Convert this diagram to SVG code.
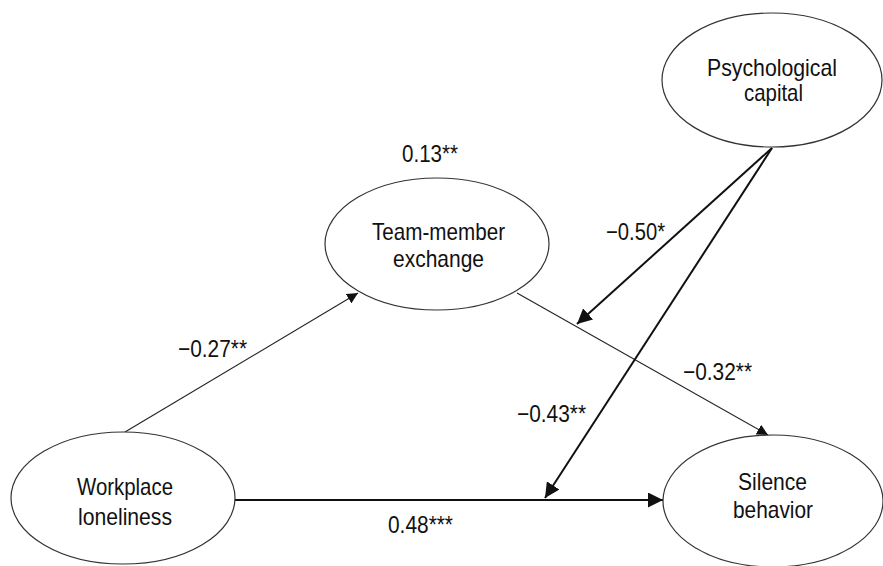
<svg xmlns="http://www.w3.org/2000/svg" width="883" height="566" viewBox="0 0 883 566">
<style>
.node ellipse{fill:#fff;stroke:#333;stroke-width:1.2}
text{font-family:"Liberation Sans",Arial,sans-serif;font-size:24px;fill:#111;text-anchor:middle}
.thin{stroke:#222;stroke-width:1.1;fill:none}
.thick{stroke:#111;stroke-width:2;fill:none}
</style>
<defs>
<marker id="ah" viewBox="0 0 10 10" refX="10" refY="5" markerWidth="11" markerHeight="11" markerUnits="userSpaceOnUse" orient="auto">
<path d="M0,0 L10,5 L0,10 z" fill="#111"/>
</marker>
<marker id="ah2" viewBox="0 0 10 10" refX="10" refY="5" markerWidth="7.5" markerHeight="7.5" markerUnits="strokeWidth" orient="auto">
<path d="M0,0 L10,5 L0,10 z" fill="#111"/>
</marker>
</defs>
<rect width="883" height="566" fill="#fff"/>
<g id="connectors">
<line class="thin" x1="125" y1="432" x2="358" y2="293" marker-end="url(#ah)"/>
<line class="thin" x1="517" y1="293" x2="768" y2="435" marker-end="url(#ah)"/>
<line class="thick" x1="235" y1="500" x2="663" y2="500" marker-end="url(#ah2)"/>
<line class="thick" x1="772" y1="148" x2="577" y2="324" marker-end="url(#ah2)"/>
<line class="thick" x1="772" y1="148" x2="545" y2="498" marker-end="url(#ah2)"/>
<text x="212.5" y="357" textLength="69" lengthAdjust="spacingAndGlyphs">−0.27**</text>
<text x="635.5" y="240" textLength="59" lengthAdjust="spacingAndGlyphs">−0.50*</text>
<text x="717.5" y="380" textLength="69" lengthAdjust="spacingAndGlyphs">−0.32**</text>
<text x="551.5" y="422" textLength="69" lengthAdjust="spacingAndGlyphs">−0.43**</text>
<text x="420.5" y="533" textLength="65" lengthAdjust="spacingAndGlyphs">0.48***</text>
<text x="430" y="162" textLength="56" lengthAdjust="spacingAndGlyphs">0.13**</text>
</g>
<g id="psychological-capital" class="node">
<ellipse cx="772" cy="80" rx="110" ry="67"/>
<text x="772" y="76" textLength="130" lengthAdjust="spacingAndGlyphs">Psychological</text>
<text x="773.5" y="101" textLength="59" lengthAdjust="spacingAndGlyphs">capital</text>
</g>
<g id="team-member-exchange" class="node">
<ellipse cx="437" cy="244" rx="112" ry="66"/>
<text x="438.5" y="240" textLength="133" lengthAdjust="spacingAndGlyphs">Team-member</text>
<text x="438.5" y="267" textLength="91" lengthAdjust="spacingAndGlyphs">exchange</text>
</g>
<g id="workplace-loneliness" class="node">
<ellipse cx="123" cy="498" rx="112" ry="66"/>
<text x="125" y="495" textLength="96" lengthAdjust="spacingAndGlyphs">Workplace</text>
<text x="125" y="525" textLength="94" lengthAdjust="spacingAndGlyphs">loneliness</text>
</g>
<g id="silence-behavior" class="node">
<ellipse cx="773" cy="501" rx="110" ry="66"/>
<text x="772.5" y="490" textLength="69" lengthAdjust="spacingAndGlyphs">Silence</text>
<text x="773" y="518" textLength="80" lengthAdjust="spacingAndGlyphs">behavior</text>
</g>
</svg>
